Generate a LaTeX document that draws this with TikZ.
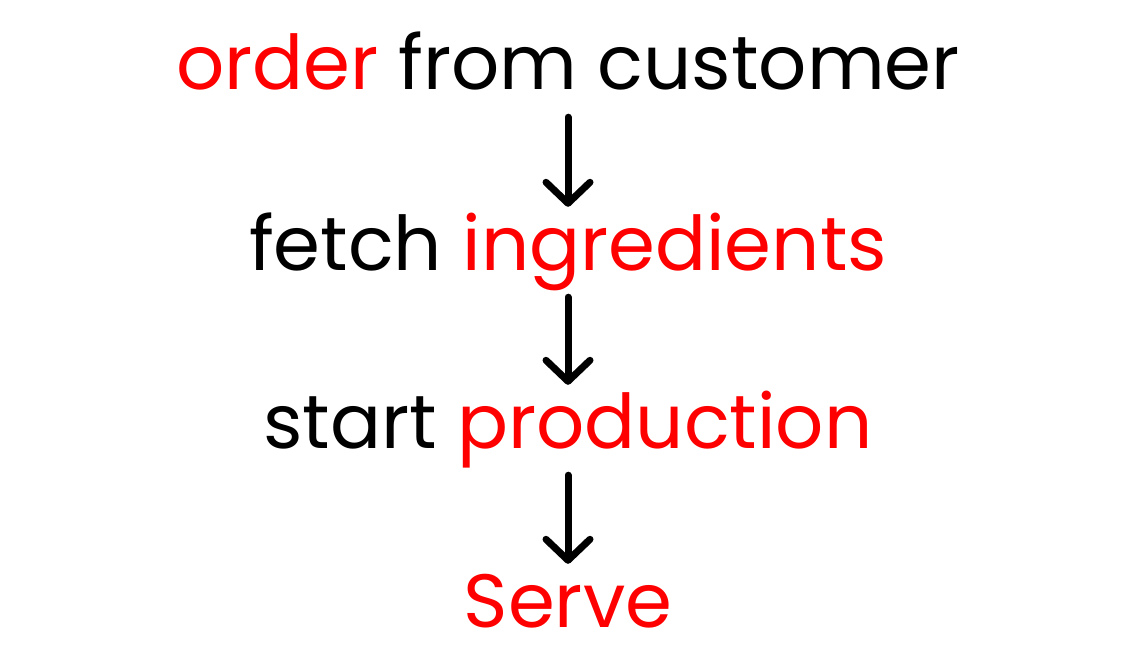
\documentclass[tikz,border=0pt]{standalone}
\usepackage{fontspec}
\setmainfont{Poppins}
\usetikzlibrary{arrows.meta}
\definecolor{hl}{HTML}{FF0000}
\begin{document}
\begin{tikzpicture}[x=1pt,y=-1pt,
  lbl/.style={anchor=base,inner sep=0pt,text height=56pt,text depth=18pt,font=\fontsize{75.5}{80}\selectfont},
  flow/.style={line width=7pt,line cap=round,-{Straight Barb[length=21pt,width=44pt,line cap=round,line join=round]}}]
\useasboundingbox (0,0) rectangle (1138,663);
\node[lbl] (l1) at (568,90) {\textcolor{hl}{order} from customer};
\node[lbl] (l2) at (568,270) {fetch \textcolor{hl}{ingredients}};
\node[lbl] (l3) at (568,448) {start \textcolor{hl}{production}};
\node[lbl] (l4) at (568,627) {\textcolor{hl}{Serve}};
\draw[flow,shorten <=9pt,shorten >=7pt] (l1) -- (l2);
\draw[flow,shorten <=9pt,shorten >=7pt] (l2) -- (l3);
\draw[flow,shorten <=9pt,shorten >=7pt] (l3) -- (l4);
\end{tikzpicture}
\end{document}
